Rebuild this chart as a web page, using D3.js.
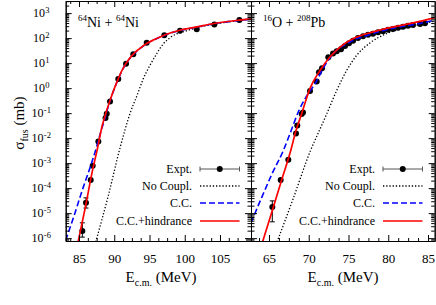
<!DOCTYPE html>
<html>
<head>
<meta charset="utf-8">
<script src="https://cdn.jsdelivr.net/npm/d3@7"></script>
<style>
  body { margin: 0; background: #fff; }
  svg { display: block; }
</style>
</head>
<body>
<div id="chart"></div>
<script>
// ---- 64Ni + 64Ni : [E_cm (MeV), sigma (mb)] ----
const niExpt = [
  [85.47, 1.93e-6], [85.99, 2.6e-5], [86.66, 2.1e-4], [86.94, 7.9e-4], [87.74, 7.4e-3],
  [88.76, 0.064], [88.93, 0.094], [89.40, 0.29], [90.57, 2.3], [91.67, 9.5],
  [92.70, 22.5], [94.60, 65], [97.10, 130], [99.33, 195], [101.7, 227],
  [104.2, 350], [107.75, 525]
];
// [E, low, high] error bars that stick out of the marker
const niErr = [[85.47, 1.1e-6, 4.1e-6], [85.99, 1.6e-5, 4.1e-5]];
const niNoCoupl = [
  [87.37, 7.0e-7], [89.11, 4.5e-5], [90.82, 4.1e-3], [92.23, 0.096], [93.23, 0.51],
  [94.08, 2.23], [95.07, 8.2], [96.06, 24.8], [96.91, 57], [97.91, 104],
  [98.90, 150], [100.04, 189], [101.74, 262], [104.15, 361], [107.70, 500], [109.40, 574]
];
const niCC = [
  [83.11, 8.1e-7], [84.29, 7.8e-6], [85.43, 7.8e-5], [86.56, 6.6e-4], [87.27, 2.75e-3],
  [87.98, 0.0138], [88.69, 0.066], [89.40, 0.316], [89.96, 0.87], [90.53, 2.19],
  [91.10, 5.0], [91.67, 9.55], [92.66, 21.9], [93.65, 38.5], [94.65, 61], [95.78, 88],
  [97.06, 128], [99.33, 203], [101.74, 275], [104.15, 377], [107.70, 512], [109.40, 577]
];
const niHind = [
  [84.86, 7.0e-7], [85.99, 2.34e-5], [86.84, 4.1e-4], [87.55, 3.15e-3], [88.26, 0.029],
  [88.83, 0.106], [89.40, 0.32], [89.96, 0.89], [90.53, 2.23], [91.10, 5.1],
  [91.67, 9.8], [92.66, 22.5], [93.65, 39], [94.65, 62], [95.78, 90], [97.06, 131],
  [99.33, 207], [101.74, 282], [104.15, 385], [107.70, 524], [109.40, 590]
];

// ---- 16O + 208Pb ----
const pbExpt = [
  [65.42, 1.78e-5], [66.47, 2.1e-4], [67.43, 1.38e-3], [68.40, 0.0155], [68.56, 0.032],
  [69.11, 0.093], [69.28, 0.105], [70.16, 0.76], [71.00, 1.86], [71.29, 4.3],
  [71.67, 6.2], [72.46, 17], [73.05, 24.5], [73.52, 29.5], [74.06, 35.5],
  [74.56, 48], [75.06, 63], [75.57, 79], [76.19, 100], [76.82, 120], [77.45, 135],
  [78.08, 148], [78.71, 170], [79.34, 190], [79.97, 214], [80.60, 234], [81.23, 257],
  [81.86, 282], [82.48, 309], [83.11, 331], [84.00, 363], [84.62, 389]
];
const pbErr = [[65.42, 4.5e-6, 3.1e-5]];
const pbNoCoupl = [
  [66.01, 7.0e-7], [68.03, 3.7e-5], [70.22, 3.16e-3], [71.33, 0.020], [72.26, 0.093],
  [73.52, 0.81], [74.77, 5.1], [76.03, 20.6], [77.70, 64], [79.81, 153],
  [82.32, 267], [84.84, 407], [85.84, 478]
];
const pbCC = [
  [62.74, 4.1e-6], [64.12, 4.5e-5], [65.38, 3.7e-4], [66.80, 3.16e-3], [67.64, 0.0151],
  [68.77, 0.127], [69.78, 0.51], [70.79, 1.50], [72.04, 8.2], [73.09, 24.1],
  [75.19, 70], [78.12, 153], [81.06, 267], [83.99, 385], [85.84, 524]
];
const pbHind = [
  [64.19, 7.0e-7], [65.40, 1.23e-5], [66.52, 1.78e-4], [67.73, 3.16e-3], [68.40, 0.020],
  [69.11, 0.095], [70.16, 0.98], [71.42, 5.1], [72.67, 17.6], [73.93, 44],
  [75.60, 96], [78.12, 177], [80.64, 282], [83.15, 407], [85.84, 659]
];

// ticks
const niTicks = [85, 90, 95, 100, 105];
const pbTicks = [65, 70, 75, 80, 85];
const yTickExp = [-6, -5, -4, -3, -2, -1, 0, 1, 2, 3];
const legendNames = ["Expt.", "No Coupl.", "C.C.", "C.C.+hindrance"];

const width = 436, height = 305;
const plotTop = 1, plotBottom = 241;
const serif = "'Liberation Serif'";

const y = d3.scaleLog().domain([7.7e-7, 3.05e3]).range([plotBottom, plotTop]);

const panels = [
  { x: d3.scaleLinear().domain([83.11, 109.4]).range([65.7, 251]),
    ticks: niTicks, expt: niExpt, err: niErr, noc: niNoCoupl, cc: niCC, hin: niHind,
    label: ["64", "Ni + ", "64", "Ni"], labelX: 78, legendX: 192, titleX: 161 },
  { x: d3.scaleLinear().domain([62.74, 85.84]).range([251, 434.7]),
    ticks: pbTicks, expt: pbExpt, err: pbErr, noc: pbNoCoupl, cc: pbCC, hin: pbHind,
    label: ["16", "O + ", "208", "Pb"], labelX: 263, legendX: 375, titleX: 343 }
];

const svg = d3.select("#chart").append("svg")
    .attr("width", width)
    .attr("height", height);

svg.append("rect").attr("width", width).attr("height", height).attr("fill", "#fff");

function minorX(x) {
  const [a, b] = x.domain();
  return d3.range(Math.ceil(a / 1.25) * 1.25, b, 1.25).filter(v => v % 5 !== 0);
}

function minorY() {
  const out = [];
  for (let e = -7; e <= 3; e++)
    for (let k = 2; k <= 9; k++) {
      const v = k * Math.pow(10, e);
      if (v > y.domain()[0] && v < y.domain()[1]) out.push(v);
    }
  return out;
}

function styleAxis(g) {
  g.selectAll("path.domain").attr("stroke", "#000").attr("stroke-width", 1);
  g.selectAll(".tick line").attr("stroke", "#000").attr("stroke-width", 1);
}

function drawPanel(p, i) {
  const x = p.x;
  const [x0, x1] = x.range();
  const g = svg.append("g");

  svg.append("clipPath").attr("id", "clip" + i)
    .append("rect")
      .attr("x", x0).attr("y", plotTop)
      .attr("width", x1 - x0).attr("height", plotBottom - plotTop);

  const plot = g.append("g").attr("clip-path", `url(#clip${i})`);

  // experimental points + error bars
  plot.selectAll("line.err")
    .data(p.err)
    .join("line")
      .attr("x1", d => x(d[0])).attr("x2", d => x(d[0]))
      .attr("y1", d => y(d[1])).attr("y2", d => y(d[2]))
      .attr("stroke", "#000").attr("stroke-width", 1);
  p.err.forEach(d => {
    [d[1], d[2]].forEach(v => {
      plot.append("line")
        .attr("x1", x(d[0]) - 2.5).attr("x2", x(d[0]) + 2.5)
        .attr("y1", y(v)).attr("y2", y(v))
        .attr("stroke", "#000").attr("stroke-width", 1);
    });
  });
  plot.selectAll("circle")
    .data(p.expt)
    .join("circle")
      .attr("cx", d => x(d[0]))
      .attr("cy", d => y(d[1]))
      .attr("r", 3)
      .attr("fill", "#000");

  const line = d3.line()
      .x(d => x(d[0]))
      .y(d => y(d[1]))
      .curve(d3.curveMonotoneX);

  plot.append("path").datum(p.noc)
      .attr("fill", "none").attr("stroke", "#000")
      .attr("stroke-width", 1.3).attr("stroke-dasharray", "1.3,1.9")
      .attr("d", line);
  plot.append("path").datum(p.cc)
      .attr("fill", "none").attr("stroke", "#0000ff")
      .attr("stroke-width", 1.6).attr("stroke-dasharray", "6,3")
      .attr("d", line);
  plot.append("path").datum(p.hin)
      .attr("fill", "none").attr("stroke", "#ff0000")
      .attr("stroke-width", 1.7)
      .attr("d", line);

  // axes (ticks inward on all four sides)
  const yMajor = yTickExp.map(e => Math.pow(10, e));
  const mx = minorX(x), my = minorY();

  const axes = [
    [d3.axisBottom(x).tickValues(p.ticks).tickSizeInner(-6).tickPadding(13).tickFormat(d3.format("d")), `translate(0,${plotBottom})`],
    [d3.axisBottom(x).tickValues(mx).tickSizeInner(-3).tickFormat(""), `translate(0,${plotBottom})`],
    [d3.axisTop(x).tickValues(p.ticks).tickSizeInner(-6).tickFormat(""), `translate(0,${plotTop})`],
    [d3.axisTop(x).tickValues(mx).tickSizeInner(-3).tickFormat(""), `translate(0,${plotTop})`],
    [d3.axisLeft(y).tickValues(yMajor).tickSizeInner(-6).tickFormat(""), `translate(${x0},0)`],
    [d3.axisLeft(y).tickValues(my).tickSizeInner(-3.5).tickFormat(""), `translate(${x0},0)`],
    [d3.axisRight(y).tickValues(yMajor).tickSizeInner(-6).tickFormat(""), `translate(${x1},0)`],
    [d3.axisRight(y).tickValues(my).tickSizeInner(-3.5).tickFormat(""), `translate(${x1},0)`]
  ];
  axes.forEach(([ax, tr]) => {
    g.append("g")
      .attr("transform", tr)
      .call(ax.tickSizeOuter(0))
      .call(styleAxis);
  });
  g.selectAll(".tick text").attr("font-size", 13).attr("fill", "#000");

  // reaction label
  const lab = g.append("text")
      .attr("x", p.labelX).attr("y", 27)
      .attr("font-size", 14).attr("fill", "#000");
  lab.append("tspan").attr("font-size", 9).attr("dy", -6).text(p.label[0]);
  lab.append("tspan").attr("dy", 6).text(p.label[1]);
  lab.append("tspan").attr("font-size", 9).attr("dy", -6).text(p.label[2]);
  lab.append("tspan").attr("dy", 6).text(p.label[3]);

  // x title
  const xt = g.append("text")
      .attr("x", p.titleX).attr("y", 282)
      .attr("text-anchor", "middle")
      .attr("font-size", 15).attr("fill", "#000");
  xt.append("tspan").text("E");
  xt.append("tspan").attr("font-size", 10).attr("dy", 4).text("c.m.");
  xt.append("tspan").attr("dy", -4).text(" (MeV)");

  // legend
  const ly = [169, 186, 203, 221];
  const lx0 = p.legendX + 8, lx1 = p.legendX + 47.5;
  const leg = g.append("g").attr("font-size", 12).attr("fill", "#000");
  legendNames.forEach((name, k) => {
    leg.append("text")
      .attr("x", p.legendX).attr("y", ly[k] + 4)
      .attr("text-anchor", "end")
      .text(name);
  });
  leg.append("line")
    .attr("x1", lx0).attr("x2", lx1).attr("y1", ly[0]).attr("y2", ly[0])
    .attr("stroke", "#555").attr("stroke-width", 1);
  [lx0, lx1].forEach(xx => leg.append("line")
    .attr("x1", xx).attr("x2", xx).attr("y1", ly[0] - 2.5).attr("y2", ly[0] + 2.5)
    .attr("stroke", "#555").attr("stroke-width", 1));
  leg.append("circle").attr("cx", (lx0 + lx1) / 2).attr("cy", ly[0]).attr("r", 3).attr("fill", "#000");
  leg.append("line")
    .attr("x1", lx0).attr("x2", lx1).attr("y1", ly[1]).attr("y2", ly[1])
    .attr("stroke", "#000").attr("stroke-width", 1.3).attr("stroke-dasharray", "1.3,1.9");
  leg.append("line")
    .attr("x1", lx0).attr("x2", lx1).attr("y1", ly[2]).attr("y2", ly[2])
    .attr("stroke", "#0000ff").attr("stroke-width", 1.6).attr("stroke-dasharray", "6,3");
  leg.append("line")
    .attr("x1", lx0).attr("x2", lx1).attr("y1", ly[3]).attr("y2", ly[3])
    .attr("stroke", "#ff0000").attr("stroke-width", 1.7);
}

panels.forEach(drawPanel);

// y tick labels (left panel only)
const yl = svg.append("g").attr("fill", "#000");
yTickExp.forEach(e => {
  const yy = y(Math.pow(10, e));
  const xr = e < 0 ? 43.5 : 45;
  yl.append("text")
    .attr("x", xr).attr("y", yy + 4.3)
    .attr("text-anchor", "end")
    .attr("font-size", 12)
    .text("10");
  yl.append("text")
    .attr("x", xr + 0.3).attr("y", yy + 0.3)
    .attr("font-size", 8.5)
    .text(String(e));
});

// y title
const yt = svg.append("text")
    .attr("transform", "translate(24,123) rotate(-90)")
    .attr("text-anchor", "middle")
    .attr("font-size", 15).attr("fill", "#000");
yt.append("tspan").text("σ");
yt.append("tspan").attr("font-size", 10).attr("dy", 4).text("fus");
yt.append("tspan").attr("dy", -4).text(" (mb)");

// serif everywhere
svg.selectAll("text").style("font-family", serif);
</script>
</body>
</html>
